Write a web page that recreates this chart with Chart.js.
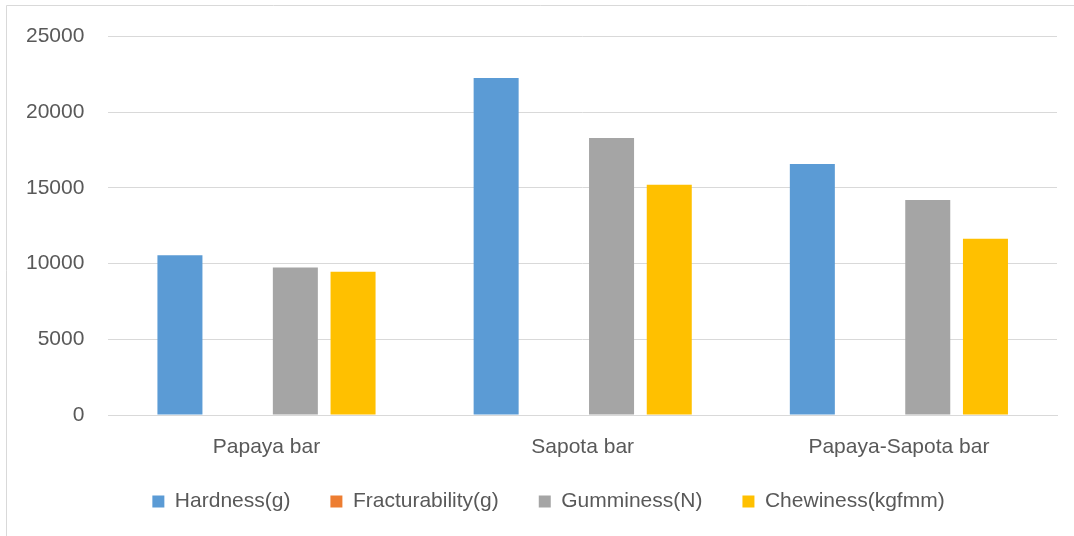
<!DOCTYPE html>
<html>
<head>
<meta charset="utf-8">
<script src="https://cdn.jsdelivr.net/npm/chart.js@4/dist/chart.umd.min.js"></script>
<style>
  html, body { margin: 0; padding: 0; background: #fff; }
  #wrap { position: relative; width: 1074px; height: 536px; }
</style>
</head>
<body>
<div id="wrap"><canvas id="textureChart" width="1074" height="536"></canvas></div>
<script>
// Chart data
const categories = ['Papaya bar', 'Sapota bar', 'Papaya-Sapota bar'];
const hardness = [10550, 22270, 16580];
const fracturability = [0, 0, 0];
const gumminess = [9740, 18300, 14200];
const chewiness = [9470, 15220, 11640];
const yTicks = [0, 5000, 10000, 15000, 20000, 25000];

const textColor = '#595959';
const fontFamily = '"Liberation Sans", Arial, sans-serif';

// thin light border at top/left, like the pasted Excel chart frame
const framePlugin = {
    id: 'frame',
    beforeDraw(chart) {
        const c = chart.ctx;
        c.save();
        c.fillStyle = '#fff';
        c.fillRect(0, 0, chart.width, chart.height);
        c.strokeStyle = '#d9d9d9';
        c.lineWidth = 1;
        c.beginPath();
        c.moveTo(6.5, chart.height);
        c.lineTo(6.5, 5.5);
        c.lineTo(chart.width, 5.5);
        c.stroke();
        c.restore();
    }
};

// nudge the legend box so it sits where Excel put it
const legendShift = {
    id: 'legendShift',
    afterLayout(chart) {
        const lg = chart.legend;
        if (!lg) return;
        lg.left += 19; lg.right += 19;
        lg.top -= 10; lg.bottom -= 10;
    }
};

function makeSet(label, data, color) {
    return {
        label: label,
        data: data,
        backgroundColor: color,
        borderColor: color,
        borderWidth: 0,
        categoryPercentage: 0.73,
        barPercentage: 0.78
    };
}

new Chart(document.getElementById('textureChart').getContext('2d'), {
    type: 'bar',
    data: {
        labels: categories,
        datasets: [
            makeSet('Hardness(g)', hardness, '#5b9bd5'),
            makeSet('Fracturability(g)', fracturability, '#ed7d31'),
            makeSet('Gumminess(N)', gumminess, '#a5a5a5'),
            makeSet('Chewiness(kgfmm)', chewiness, '#ffc000')
        ]
    },
    options: {
        responsive: false,
        animation: false,
        layout: {
            padding: { left: 2, right: 17, top: 19, bottom: 4 }
        },
        plugins: {
            title: { display: false },
            tooltip: { enabled: false },
            legend: {
                position: 'bottom',
                labels: {
                    color: textColor,
                    boxWidth: 12,
                    boxHeight: 12,
                    padding: 40,
                    font: { family: fontFamily, size: 21 }
                }
            }
        },
        scales: {
            x: {
                grid: { display: false, drawTicks: false },
                border: { display: true, color: '#d9d9d9', width: 1 },
                ticks: {
                    color: textColor,
                    padding: 20,
                    font: { family: fontFamily, size: 21 }
                },
                afterFit: axis => { axis.height = 46; }
            },
            y: {
                min: 0,
                max: 25000,
                afterBuildTicks: axis => {
                    axis.ticks = yTicks.map(v => ({ value: v }));
                },
                grid: { color: '#d9d9d9', lineWidth: 1, drawTicks: false },
                border: { display: false },
                ticks: {
                    color: textColor,
                    padding: 24,
                    font: { family: fontFamily, size: 21 },
                    callback: v => String(v)
                }
            }
        }
    },
    plugins: [framePlugin, legendShift]
});
</script>
</body>
</html>
